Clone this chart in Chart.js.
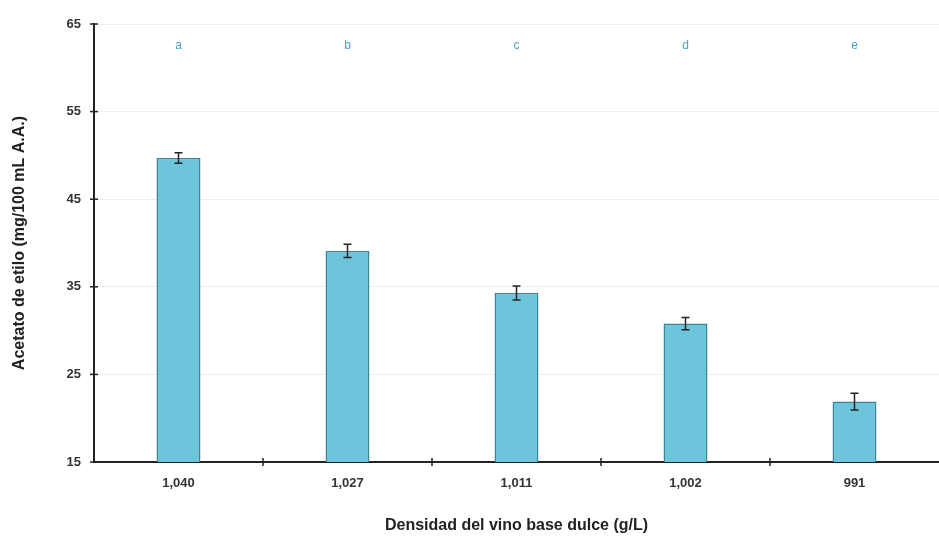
<!DOCTYPE html>
<html>
<head>
<meta charset="utf-8">
<script src="https://cdn.jsdelivr.net/npm/chart.js@4/dist/chart.umd.min.js"></script>
<style>
  html, body { margin: 0; padding: 0; background: #fff; }
  #wrap { width: 939px; height: 537px; }
</style>
</head>
<body>
<div id="wrap"><canvas id="chart"></canvas></div>
<script>
// values
var densities = ['1,040', '1,027', '1,011', '1,002', '991'];
var acetate = [49.7, 39.1, 34.3, 30.8, 21.9];
var errors = [0.6, 0.75, 0.8, 0.7, 0.95];
var letters = ['a', 'b', 'c', 'd', 'e'];
var letterLevel = 62.5;

// error bars + significance letters
var extras = {
  id: 'extras',
  afterDatasetsDraw: function(chart) {
    var ctx = chart.ctx;
    var x = chart.scales.x, y = chart.scales.y;
    ctx.save();
    ctx.strokeStyle = '#222';
    ctx.lineWidth = 1.5;
    for (var i = 0; i < acetate.length; i++) {
      var cx = x.getPixelForValue(i);
      var top = y.getPixelForValue(acetate[i] + errors[i]);
      var bot = y.getPixelForValue(acetate[i] - errors[i]);
      ctx.beginPath();
      ctx.moveTo(cx, top); ctx.lineTo(cx, bot);
      ctx.moveTo(cx - 4, top); ctx.lineTo(cx + 4, top);
      ctx.moveTo(cx - 4, bot); ctx.lineTo(cx + 4, bot);
      ctx.stroke();
    }
    ctx.fillStyle = '#4aa3c4';
    ctx.font = '12px Arial, "Liberation Sans", sans-serif';
    ctx.textAlign = 'center';
    ctx.textBaseline = 'middle';
    for (var j = 0; j < letters.length; j++) {
      ctx.fillText(letters[j], x.getPixelForValue(j), y.getPixelForValue(letterLevel));
    }
    // small tick marks crossing the axes
    ctx.strokeStyle = '#222';
    ctx.lineWidth = 1.5;
    var yt = y.ticks;
    for (var k = 0; k < yt.length; k++) {
      var py = y.getPixelForValue(yt[k].value);
      ctx.beginPath();
      ctx.moveTo(x.left - 4, py); ctx.lineTo(x.left + 4, py);
      ctx.stroke();
    }
    for (var m = 1; m < densities.length; m++) {
      var px = (x.getPixelForValue(m - 1) + x.getPixelForValue(m)) / 2;
      ctx.beginPath();
      ctx.moveTo(px, y.bottom - 4); ctx.lineTo(px, y.bottom + 4);
      ctx.stroke();
    }
    ctx.restore();
  }
};

var ctx = document.getElementById('chart');
new Chart(ctx, {
  type: 'bar',
  data: {
    labels: densities,
    datasets: [{
      data: acetate,
      backgroundColor: '#6dc5dc',
      borderColor: '#3b8596',
      borderWidth: 1.5,
      categoryPercentage: 1,
      barPercentage: 0.26
    }]
  },
  options: {
    responsive: true,
    maintainAspectRatio: false,
    animation: false,
    layout: { padding: { top: 24, right: 0, left: 0, bottom: 2 } },
    plugins: {
      legend: { display: false },
      tooltip: { enabled: false }
    },
    scales: {
      x: {
        grid: { display: false, drawOnChartArea: false },
        border: { color: '#222', width: 2 },
        ticks: {
          color: '#333',
          padding: 6,
          font: { family: 'Arial, "Liberation Sans", sans-serif', size: 13, weight: 'bold' }
        },
        title: {
          display: true,
          text: 'Densidad del vino base dulce (g/L)',
          color: '#222',
          padding: { top: 0, bottom: 0 },
          font: { family: 'Arial, "Liberation Sans", sans-serif', size: 16, weight: 'bold' }
        },
        afterFit: function(scale) { scale.height = 73; }
      },
      y: {
        min: 15,
        max: 65,
        ticks: {
          stepSize: 10,
          color: '#333',
          padding: 13,
          font: { family: 'Arial, "Liberation Sans", sans-serif', size: 13, weight: 'bold' }
        },
        grid: { color: '#eeeeee', lineWidth: 1, drawTicks: false },
        border: { color: '#222', width: 2 },
        title: {
          display: true,
          text: 'Acetato de etilo (mg/100 mL A.A.)',
          color: '#222',
          padding: { top: 10, bottom: 0 },
          font: { family: 'Arial, "Liberation Sans", sans-serif', size: 16, weight: 'bold' }
        },
        afterFit: function(scale) { scale.width = 94; }
      }
    }
  },
  plugins: [extras]
});
</script>
</body>
</html>
